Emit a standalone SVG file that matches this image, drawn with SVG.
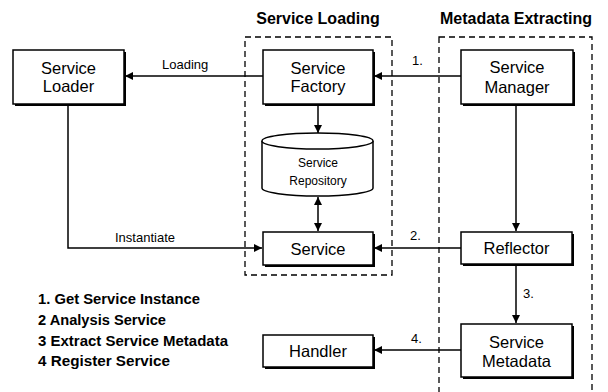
<svg xmlns="http://www.w3.org/2000/svg" width="608" height="392" viewBox="0 0 608 392">
<style>
.box{fill:#fff;stroke:#000;stroke-width:1.5}
.sh{fill:#000}
.grp{fill:none;stroke:#000;stroke-width:1.3;stroke-dasharray:6,4}
.t{font-family:"Liberation Sans",Arial,sans-serif;font-size:16.5px;text-anchor:middle;fill:#000}
.ts{font-family:"Liberation Sans",Arial,sans-serif;font-size:12px;text-anchor:middle;fill:#000}
.lb{font-family:"Liberation Sans",Arial,sans-serif;font-size:13px;fill:#000}
.title{font-family:"Liberation Sans",Arial,sans-serif;font-size:16px;font-weight:bold;text-anchor:middle;fill:#000}
.leg{font-family:"Liberation Sans",Arial,sans-serif;font-size:14px;font-weight:bold;fill:#000}
.ln{fill:none;stroke:#000;stroke-width:1.5}
</style>
<defs>
<marker id="ah" viewBox="0 0 10 10" refX="10" refY="5" markerWidth="8" markerHeight="8" markerUnits="userSpaceOnUse" orient="auto">
<path d="M0,0 L10,5 L0,10 z" fill="#000"/>
</marker>
<marker id="as" viewBox="0 0 10 10" refX="0" refY="5" markerWidth="8" markerHeight="8" markerUnits="userSpaceOnUse" orient="auto">
<path d="M10,0 L0,5 L10,10 z" fill="#000"/>
</marker>
</defs>
<text class="title" x="318" y="24">Service Loading</text>
<text class="title" x="516" y="24">Metadata Extracting</text>
<rect class="grp" x="245" y="37" width="147" height="238"/>
<rect class="grp" x="439" y="37" width="153" height="360"/>

<g id="connectors">
<line class="ln" x1="461" y1="76" x2="374" y2="76" marker-end="url(#ah)"/>
<text class="lb" x="412" y="65">1.</text>
<line class="ln" x1="263" y1="76" x2="125" y2="76" marker-end="url(#ah)"/>
<text class="lb" x="162" y="69">Loading</text>
<polyline class="ln" points="68,105 68,248 262,248" marker-end="url(#ah)"/>
<text class="lb" x="115" y="242">Instantiate</text>
<line class="ln" x1="461" y1="248" x2="374" y2="248" marker-end="url(#ah)"/>
<text class="lb" x="410" y="240">2.</text>
<line class="ln" x1="318" y1="105" x2="318" y2="133" marker-end="url(#ah)"/>
<line class="ln" x1="318" y1="197" x2="318" y2="231" marker-start="url(#as)" marker-end="url(#ah)"/>
<line class="ln" x1="516" y1="105" x2="516" y2="231" marker-end="url(#ah)"/>
<line class="ln" x1="516" y1="265" x2="516" y2="323" marker-end="url(#ah)"/>
<text class="lb" x="523" y="298">3.</text>
<line class="ln" x1="461" y1="350" x2="374" y2="350" marker-end="url(#ah)"/>
<text class="lb" x="411" y="343">4.</text>
</g>

<g id="service-loader">
<rect class="sh" x="15" y="52" width="111" height="54"/>
<rect class="box" x="13" y="50" width="111" height="54"/>
<text class="t" x="68.5" y="74">Service</text>
<text class="t" x="68.5" y="92">Loader</text>
</g>
<g id="service-factory">
<rect class="sh" x="265" y="52" width="110" height="54"/>
<rect class="box" x="263" y="50" width="110" height="54"/>
<text class="t" x="318" y="74">Service</text>
<text class="t" x="318" y="92">Factory</text>
</g>
<g id="service-repository">
<path d="M262,141 L262,188 A55.5,8 0 0 0 373,188 L373,141" fill="#fff" stroke="#000" stroke-width="1.5"/>
<ellipse cx="317.5" cy="141" rx="55.5" ry="8" fill="#fff" stroke="#000" stroke-width="1.5"/>
<text class="ts" x="318" y="167">Service</text>
<text class="ts" x="318" y="185">Repository</text>
</g>
<g id="service">
<rect class="sh" x="265" y="234" width="110" height="33"/>
<rect class="box" x="263" y="232" width="110" height="33"/>
<text class="t" x="318" y="255">Service</text>
</g>
<g id="service-manager">
<rect class="sh" x="463" y="52" width="112" height="54"/>
<rect class="box" x="461" y="50" width="112" height="54"/>
<text class="t" x="517" y="73">Service</text>
<text class="t" x="517" y="93">Manager</text>
</g>
<g id="reflector">
<rect class="sh" x="463" y="234" width="111" height="32"/>
<rect class="box" x="461" y="232" width="111" height="32"/>
<text class="t" x="516.5" y="254">Reflector</text>
</g>
<g id="service-metadata">
<rect class="sh" x="463" y="326" width="111" height="53"/>
<rect class="box" x="461" y="324" width="111" height="53"/>
<text class="t" x="516.5" y="348">Service</text>
<text class="t" x="516.5" y="367">Metadata</text>
</g>
<g id="handler">
<rect class="sh" x="265" y="337" width="110" height="32"/>
<rect class="box" x="263" y="335" width="110" height="32"/>
<text class="t" x="318" y="357">Handler</text>
</g>

<g id="legend">
<text class="leg" x="38" y="304" textLength="162" lengthAdjust="spacingAndGlyphs">1. Get Service Instance</text>
<text class="leg" x="38" y="325" textLength="128" lengthAdjust="spacingAndGlyphs">2 Analysis Service</text>
<text class="leg" x="38" y="346" textLength="190" lengthAdjust="spacingAndGlyphs">3 Extract Service Metadata</text>
<text class="leg" x="38" y="366" textLength="132" lengthAdjust="spacingAndGlyphs">4 Register Service</text>
</g>
</svg>
